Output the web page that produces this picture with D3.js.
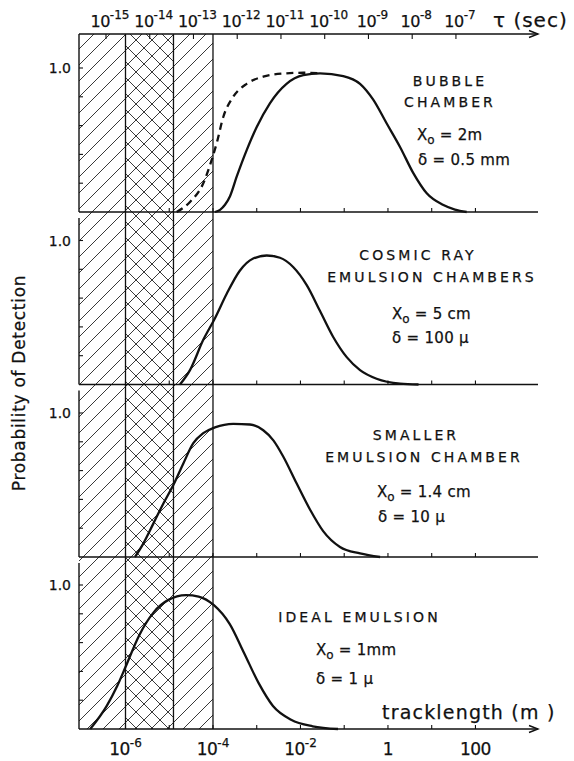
<!DOCTYPE html>
<html>
<head>
<meta charset="utf-8">
<script src="https://cdn.jsdelivr.net/npm/d3@7"></script>
<style>
  html, body { margin: 0; padding: 0; background: #fff; }
  svg { display: block; }
  text { font-family: "DejaVu Sans", sans-serif; fill: #111; stroke: #111; stroke-width: 0.25; }
</style>
</head>
<body>
<div id="chart"></div>
<script>
// ---- data -------------------------------------------------------------
// lifetime ticks (top axis, seconds) as powers of ten
const tauTickExps = [-15, -14, -13, -12, -11, -10, -9, -8, -7];
// tracklength ticks (bottom axis, metres)
const trackTickValues = [1e-6, 1e-5, 1e-4, 1e-3, 1e-2, 1e-1, 1, 10, 100];
const trackLabelValues = [1e-6, 1e-4, 1e-2, 1, 100];
const trackLabelBase = ["10", "10", "10", "1", "100"];
const trackLabelExp = ["-6", "-4", "-2", "", ""];

// shaded tracklength bands: single hatch, cross hatch, single hatch
const bandEdges = [1e-6, 1.25e-5, 1e-4];

// panel captions
const panelTitles = [["BUBBLE", "CHAMBER"], ["COSMIC RAY", "EMULSION CHAMBERS"],
                     ["SMALLER", "EMULSION CHAMBER"], ["IDEAL EMULSION"]];
const panelX0 = ["2m", "5 cm", "1.4 cm", "1mm"];
const panelDelta = ["0.5 mm", "100 \u03bc", "10 \u03bc", "1 \u03bc"];

// detection probability vs tracklength (m)
const bubbleL = [1.11e-4, 1.45e-4, 1.88e-4, 2.45e-4, 3.48e-4, 5.9e-4, 1.0e-3, 2.0e-3, 4.8e-3, 0.0116, 0.028,
                 0.095, 0.23, 0.46, 0.93, 1.9, 3.8, 7.7, 18, 34, 63];
const bubbleP = [0, 0.015, 0.05, 0.11, 0.245, 0.43, 0.59, 0.755, 0.89, 0.95, 0.963,
                 0.944, 0.89, 0.78, 0.616, 0.45, 0.27, 0.13, 0.05, 0.017, 0];
const bubbleDashL = [1.48e-5, 2.98e-5, 6.0e-5, 9.3e-5, 1.22e-4, 1.72e-4, 2.9e-4, 5.9e-4, 1.41e-3, 4.8e-3, 0.0116, 0.028];
const bubbleDashP = [0, 0.07, 0.2, 0.36, 0.48, 0.66, 0.80, 0.89, 0.94, 0.963, 0.967, 0.963];

const cosmicL = [1.76e-5, 2.98e-5, 6.0e-5, 1.11e-4, 2.06e-4, 4.1e-4, 8.3e-4, 1.69e-3, 3.4e-3, 6.8e-3,
                 0.0139, 0.028, 0.056, 0.114, 0.23, 0.55, 1.9, 5];
const cosmicP = [0, 0.1, 0.31, 0.46, 0.63, 0.79, 0.875, 0.896, 0.88, 0.816,
                 0.69, 0.51, 0.33, 0.19, 0.1, 0.04, 0.006, 0];

const smallerL = [1.65e-6, 2.55e-6, 4.3e-6, 7.3e-6, 1.24e-5, 2.1e-5, 3.55e-5, 6.0e-5, 1.11e-4, 2.9e-4,
                  7.0e-4, 1.41e-3, 2.4e-3, 4.0e-3, 8.2e-3, 0.0165, 0.033, 0.08, 0.23, 0.66];
const smallerP = [0, 0.093, 0.23, 0.37, 0.5, 0.65, 0.79, 0.86, 0.90, 0.925,
                  0.92, 0.88, 0.81, 0.70, 0.51, 0.33, 0.18, 0.07, 0.025, 0];

const idealL = [1.56e-7, 3.7e-7, 6.5e-7, 1.0e-6, 2.05e-6, 4.4e-6, 9.35e-6, 2.43e-5, 4.7e-5, 1.05e-4,
                2.4e-4, 5.1e-4, 1.1e-3, 2.35e-3, 6.1e-3, 0.019, 0.072];
const idealP = [0, 0.159, 0.30, 0.43, 0.65, 0.81, 0.895, 0.93, 0.92, 0.86,
                0.73, 0.53, 0.32, 0.16, 0.065, 0.019, 0];

const yTicks = [0.2, 0.4, 0.6, 0.8, 1.0];

// ---- layout -----------------------------------------------------------
const W = 574, H = 761;
const plotL = 79, plotR = 538;
const axisTopY = 34;
const baselines = [212, 384.5, 557, 729];
const unitH = 144;          // pixel height of probability 1.0
const panelGap = 6;

const svg = d3.select("#chart").append("svg")
  .attr("width", W).attr("height", H)
  .attr("viewBox", `0 0 ${W} ${H}`);

const x = d3.scaleLog()
  .domain([Math.pow(10, -7.063), Math.pow(10, 3.43)])
  .range([plotL, plotR]);
// lifetime axis: tau = L / (beta*gamma*c), same pixel range
const tauShift = Math.pow(10, 8.554);
const tau = d3.scaleLog()
  .domain(x.domain().map(d => d / tauShift))
  .range([plotL, plotR]);

const yFor = i => d3.scaleLinear().domain([0, 1]).range([baselines[i], baselines[i] - unitH]);

// ---- hatch patterns ---------------------------------------------------
const defs = svg.append("defs");
const sp = 16;
const diagUp = `M${-sp/2},${sp/2} l${sp},${-sp} M0,${sp} l${sp},${-sp} M${sp/2},${sp*1.5} l${sp},${-sp}`;
const diagDown = `M${-sp/2},${sp/2} l${sp},${sp} M0,0 l${sp},${sp} M${sp/2},${-sp/2} l${sp},${sp}`;
defs.append("pattern").attr("id", "hatch")
  .attr("patternUnits", "userSpaceOnUse").attr("width", sp).attr("height", sp)
  .append("path").attr("d", diagUp)
  .attr("stroke", "#222").attr("stroke-width", 0.9);
defs.append("pattern").attr("id", "cross")
  .attr("patternUnits", "userSpaceOnUse").attr("width", sp).attr("height", sp)
  .append("path").attr("d", diagUp + diagDown)
  .attr("stroke", "#222").attr("stroke-width", 0.9);

const bottomY = baselines[baselines.length - 1];
const bandStarts = [x.domain()[0], ...bandEdges.slice(0, -1)];
const bandFills = ["url(#hatch)", "url(#cross)", "url(#hatch)"];
svg.append("g").selectAll("rect").data(bandEdges).join("rect")
  .attr("x", (d, i) => x(bandStarts[i]))
  .attr("width", (d, i) => x(d) - x(bandStarts[i]))
  .attr("y", axisTopY)
  .attr("height", bottomY - axisTopY)
  .attr("fill", (d, i) => bandFills[i]);
svg.append("g").selectAll("line").data(bandEdges).join("line")
  .attr("x1", d => x(d)).attr("x2", d => x(d))
  .attr("y1", axisTopY).attr("y2", bottomY)
  .attr("stroke", "#111").attr("stroke-width", 1.3);

// ---- axes -------------------------------------------------------------
function styled(sel) {
  return sel.attr("stroke", "#111").attr("stroke-width", 1.4).attr("fill", "none");
}

// top lifetime axis with arrow
styled(svg.append("line").attr("x1", plotL).attr("x2", plotR).attr("y1", axisTopY).attr("y2", axisTopY));
styled(svg.append("path").attr("d", `M${plotR - 9},${axisTopY - 3.5} L${plotR},${axisTopY} L${plotR - 9},${axisTopY + 3.5}`));
svg.append("g").selectAll("line").data(tauTickExps).join("line")
  .attr("x1", d => tau(Math.pow(10, d))).attr("x2", d => tau(Math.pow(10, d)))
  .attr("y1", axisTopY).attr("y2", axisTopY + 5)
  .attr("stroke", "#111").attr("stroke-width", 1.1);
const tauLabels = svg.append("g").selectAll("text").data(tauTickExps).join("text")
  .attr("x", d => tau(Math.pow(10, d)) + 4)
  .attr("y", axisTopY - 7)
  .attr("text-anchor", "middle")
  .style("font-size", "16px");
tauLabels.append("tspan").text("10").attr("letter-spacing", -0.5);
tauLabels.append("tspan").text(d => "-" + Math.abs(d)).attr("dy", -8).style("font-size", "12px");

svg.append("text").attr("x", 493).attr("y", axisTopY - 7)
  .style("font-size", "20px").attr("letter-spacing", 1)
  .text("\u03c4 (sec)");

// panels
baselines.forEach((b, i) => {
  const y = yFor(i);
  const top = i === 0 ? axisTopY : baselines[i - 1] + panelGap;
  styled(svg.append("line").attr("x1", plotL).attr("x2", plotL).attr("y1", top).attr("y2", b));
  styled(svg.append("line").attr("x1", plotL).attr("x2", plotR).attr("y1", b).attr("y2", b));
  svg.append("g").selectAll("line").data(yTicks).join("line")
    .attr("x1", plotL).attr("x2", plotL + 4)
    .attr("y1", d => y(d)).attr("y2", d => y(d))
    .attr("stroke", "#111").attr("stroke-width", 1.1);
  svg.append("g").selectAll("line").data(trackTickValues).join("line")
    .attr("x1", d => x(d)).attr("x2", d => x(d))
    .attr("y1", b).attr("y2", b - 4)
    .attr("stroke", "#111").attr("stroke-width", 1.1);
  svg.append("text").attr("x", 71).attr("y", y(1) + 5)
    .attr("text-anchor", "end").style("font-size", "14px").text("1.0");
});

// bottom arrow
styled(svg.append("path").attr("d", `M${plotR - 9},${bottomY - 3.5} L${plotR},${bottomY} L${plotR - 9},${bottomY + 3.5}`));

const trackLabels = svg.append("g").selectAll("text").data(trackLabelValues).join("text")
  .attr("x", d => x(d))
  .attr("y", bottomY + 26)
  .attr("text-anchor", "middle")
  .style("font-size", "17px");
trackLabels.append("tspan").text((d, i) => trackLabelBase[i]).attr("letter-spacing", -0.5);
trackLabels.append("tspan").text((d, i) => trackLabelExp[i]).attr("dy", -8).style("font-size", "12px");

svg.append("text").attr("x", 382).attr("y", bottomY - 10)
  .style("font-size", "19px").attr("letter-spacing", 1.2)
  .text("tracklength (m )");

svg.append("text")
  .attr("transform", `translate(25,383) rotate(-90)`)
  .attr("text-anchor", "middle")
  .style("font-size", "17px").attr("letter-spacing", 0.7)
  .text("Probability of Detection");

// ---- curves -----------------------------------------------------------
const curves = [
  { panel: 0, L: bubbleL, P: bubbleP, dash: null },
  { panel: 0, L: bubbleDashL, P: bubbleDashP, dash: "7,5" },
  { panel: 1, L: cosmicL, P: cosmicP, dash: null },
  { panel: 2, L: smallerL, P: smallerP, dash: null },
  { panel: 3, L: idealL, P: idealP, dash: null }
];
curves.forEach(c => {
  const y = yFor(c.panel);
  const line = d3.line()
    .x(d => x(d[0])).y(d => y(d[1]))
    .curve(d3.curveMonotoneX);
  svg.append("path")
    .datum(c.L.map((l, k) => [l, c.P[k]]))
    .attr("d", line)
    .attr("fill", "none").attr("stroke", "#111").attr("stroke-width", 2.3)
    .attr("stroke-dasharray", c.dash);
});

// ---- panel captions ---------------------------------------------------
const captionLayout = [
  { titles: [[450, -126.5], [450, -105.5]], x0: [417, -72], dl: [418, -47] },
  { titles: [[418, -124.5], [432, -103]],   x0: [392, -65.5], dl: [392, -41.5] },
  { titles: [[416, -117], [424, -95.5]],    x0: [377, -60], dl: [378, -35] },
  { titles: [[359.5, -107]],                x0: [316, -74], dl: [316, -45] }
];
captionLayout.forEach((lay, i) => {
  const b = baselines[i];
  panelTitles[i].forEach((t, k) => {
    svg.append("text")
      .attr("x", lay.titles[k][0]).attr("y", b + lay.titles[k][1])
      .attr("text-anchor", "middle")
      .style("font-size", "14px").attr("letter-spacing", 3.1)
      .text(t);
  });
  const tx = svg.append("text").attr("x", lay.x0[0]).attr("y", b + lay.x0[1])
    .style("font-size", "15px");
  tx.append("tspan").text("X");
  tx.append("tspan").text("o").attr("dy", 4).style("font-size", "12px");
  tx.append("tspan").text(" = " + panelX0[i]).attr("dy", -4).attr("letter-spacing", 0.3);
  svg.append("text").attr("x", lay.dl[0]).attr("y", b + lay.dl[1])
    .style("font-size", "15px").attr("letter-spacing", 0.3)
    .text("\u03b4 = " + panelDelta[i]);
});
</script>
</body>
</html>
